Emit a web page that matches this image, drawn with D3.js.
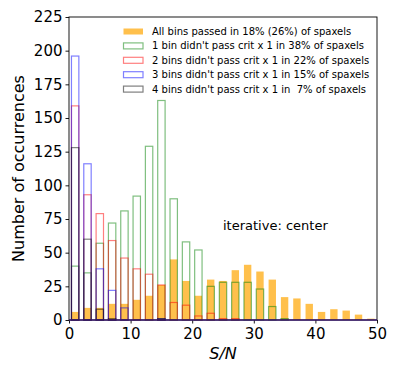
<!DOCTYPE html>
<html>
<head>
<meta charset="utf-8">
<script src="https://cdn.jsdelivr.net/npm/d3@7"></script>
<style>
  body { margin: 0; background: #fff; }
  svg { font-family: "DejaVu Sans", sans-serif; }
</style>
</head>
<body>
<div id="chart"></div>
<script>
// bin centres (bins of width 2 between 0 and 50)
var binCenters = [1,3,5,7,9,11,13,15,17,19,21,23,25,27,29,31,33,35,37,39,41,43,45,47,49];

// counts per bin
var allPassed = [6,9,9,12,12,15,18,26,45,29,18,30,29,37,41,36,30,17,16,12,6,8,7,4,1];
var oneBin    = [40,35,57,72,81,92,129,163,90,58,52,25,28,28,28,23,10,1,0,0,0,0,0,0,0];
var twoBins   = [159,93,79,59,46,38,34,26,13,11,3,5,1,1,0,0,0,0,0,0,0,0,0,0,0];
var threeBins = [196,116,38,22,9,0,0,1,0,0,0,0,0,0,0,0,0,0,0,0,0,0,0,0,0];
var fourBins  = [128,60,8,1,0,0,0,1,0,0,0,0,0,0,0,0,0,0,0,0,0,0,0,0,0];

var legendLabels = [
  "All bins passed in 18% (26%) of spaxels",
  "1 bin didn't pass crit x 1 in 38% of spaxels",
  "2 bins didn't pass crit x 1 in 22% of spaxels",
  "3 bins didn't pass crit x 1 in 15% of spaxels",
  "4 bins didn't pass crit x 1 in  7% of spaxels"
];
var xTicks = [0,10,20,30,40,50];
var yTicks = [0,25,50,75,100,125,150,175,200,225];

const chartWidth = 399;
const chartHeight = 375;
const marginLeft = 69;
const marginRight = 22;
const marginTop = 17;
const marginBottom = 55;

const binWidth = 2;
const rwidth = 0.6;

var svg = d3.select("#chart")
            .append("svg")
            .attr("width", chartWidth)
            .attr("height", chartHeight);

var xScale = d3.scaleLinear()
               .domain([0, 50])
               .range([marginLeft, chartWidth - marginRight]);

var yScale = d3.scaleLinear()
               .domain([0, 225])
               .range([chartHeight - marginBottom, marginTop]);

function drawHist(values, fill, stroke, opacity) {
  var barW = xScale(binWidth * rwidth) - xScale(0);
  svg.append("g")
    .selectAll("rect")
    .data(values)
    .enter()
    .append("rect")
    .attr("x", function(d, i) { return xScale(binCenters[i]) - barW / 2; })
    .attr("y", function(d) { return yScale(d); })
    .attr("width", barW)
    .attr("height", function(d) { return yScale(0) - yScale(d); })
    .style("fill", fill)
    .style("fill-opacity", fill == "none" ? 0 : opacity)
    .style("stroke", stroke)
    .style("stroke-opacity", opacity)
    .style("stroke-width", 1.2);
}

var series = [
  { values: allPassed, fill: "orange", stroke: "none", opacity: 0.7 },
  { values: oneBin,    fill: "none",   stroke: "green", opacity: 0.5 },
  { values: twoBins,   fill: "none",   stroke: "red",   opacity: 0.5 },
  { values: threeBins, fill: "none",   stroke: "blue",  opacity: 0.5 },
  { values: fourBins,  fill: "none",   stroke: "black", opacity: 0.5 }
];

series.forEach(function(s) { drawHist(s.values, s.fill, s.stroke, s.opacity); });

// axes
var xAxis = d3.axisBottom(xScale).tickValues(xTicks).tickSize(3.5).tickPadding(3);
var yAxis = d3.axisLeft(yScale).tickValues(yTicks).tickSize(3.5).tickPadding(3);

var gx = svg.append("g")
  .attr("transform", "translate(0," + yScale(0) + ")")
  .call(xAxis);
var gy = svg.append("g")
  .attr("transform", "translate(" + marginLeft + ",0)")
  .call(yAxis);

[gx, gy].forEach(function(g) {
  g.select(".domain").remove();
  g.selectAll("text").style("font-size", "15px").style("fill", "#000").style("font-family", "DejaVu Sans");
  g.selectAll("line").style("stroke", "#000").style("stroke-width", 0.9);
});
gx.selectAll("text").attr("dy", "0.85em");

// frame
svg.append("rect")
  .attr("x", xScale(0))
  .attr("y", yScale(225))
  .attr("width", xScale(50) - xScale(0))
  .attr("height", yScale(0) - yScale(225))
  .style("fill", "none")
  .style("stroke", "#000")
  .style("stroke-width", 0.9);

// zero-height bars of the blue and black histograms leave a purple line on the baseline
svg.append("line")
  .attr("x1", xScale(0))
  .attr("x2", xScale(50))
  .attr("y1", yScale(0))
  .attr("y2", yScale(0))
  .style("stroke", "#3c1c70")
  .style("stroke-width", 1.4);

// axis labels
svg.append("text")
  .attr("x", (xScale(0) + xScale(50)) / 2)
  .attr("y", 359)
  .style("text-anchor", "middle")
  .style("font-size", "16px")
  .style("font-style", "italic")
  .text("S/N");

svg.append("text")
  .attr("transform", "translate(24," + ((yScale(0) + yScale(225)) / 2) + ") rotate(-90)")
  .style("text-anchor", "middle")
  .style("font-size", "16px")
  .text("Number of occurrences");

// annotation
svg.append("text")
  .attr("x", 223)
  .attr("y", 230)
  .style("font-size", "13px")
  .text("iterative: center");

// legend
var legend = svg.append("g").attr("transform", "translate(123,31.5)");
series.forEach(function(s, i) {
  var row = legend.append("g").attr("transform", "translate(0," + (i * 14.4) + ")");
  row.append("rect")
    .attr("x", 0.5)
    .attr("y", -3)
    .attr("width", 19.5)
    .attr("height", 6)
    .style("fill", s.fill)
    .style("fill-opacity", s.fill == "none" ? 0 : s.opacity)
    .style("stroke", s.stroke)
    .style("stroke-opacity", s.opacity)
    .style("stroke-width", 1.2);
  row.append("text")
    .attr("x", 29)
    .attr("y", 0)
    .attr("dy", "0.35em")
    .style("font-size", "10px")
    .attr("xml:space", "preserve")
    .text(legendLabels[i]);
});
</script>
</body>
</html>
